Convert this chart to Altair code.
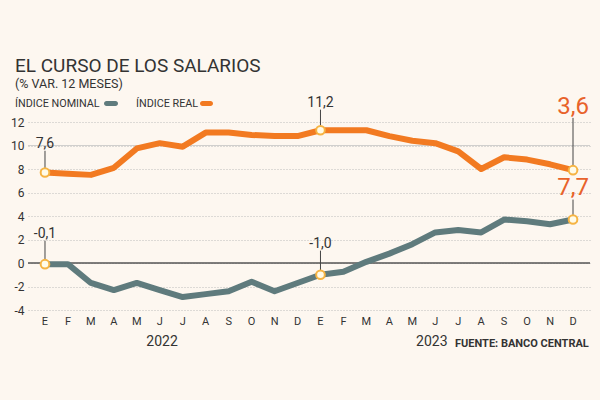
import altair as alt
import pandas as pd

months = ["E", "F", "M", "A", "M", "J", "J", "A", "S", "O", "N", "D"] * 2
nominal = [-0.1, -0.1, -1.7, -2.3, -1.7, -2.3, -2.9, -2.65, -2.4, -1.6, -2.4, -1.7,
           -1.0, -0.75, 0.1, 0.8, 1.6, 2.6, 2.8, 2.6, 3.7, 3.55, 3.3, 3.7]
real = [7.7, 7.6, 7.5, 8.1, 9.75, 10.2, 9.9, 11.1, 11.1, 10.9, 10.8, 10.8,
        11.3, 11.3, 11.3, 10.8, 10.4, 10.2, 9.5, 8.0, 9.0, 8.8, 8.4, 7.9]
y_ticks = [-4, -2, 0, 2, 4, 6, 8, 10, 12]
years = ["2022", "2023"]
year_pos = [5.1, 16.85]

# annotations: month index, series, label text, label lift (value units), big flag
ann_idx = [0, 0, 12, 12, 23, 23]
ann_series = ["real", "nominal", "real", "nominal", "real", "nominal"]
ann_text = ["7,6", "-0,1", "11,2", "-1,0", "3,6", "7,7"]
ann_lift = [2.4, 2.55, 2.3, 2.6, 5.4, 2.65]
ann_big = [False, False, False, False, True, True]

FONT = "Roboto"
BG = "#fdf7f0"
ORANGE = "#f27a21"
GRAY = "#5f7b7d"
TXT = "#333333"
RED = "#e8622a"

idx = list(range(24))
df = pd.DataFrame({
    "i": idx * 2,
    "v": nominal + real,
    "s": ["nominal"] * 24 + ["real"] * 24,
})

vals = {"real": real, "nominal": nominal}
adf = pd.DataFrame({
    "i": ann_idx,
    "v": [vals[s][i] for s, i in zip(ann_series, ann_idx)],
    "t": ann_text,
    "lift": ann_lift,
    "big": ann_big,
})
adf["ly"] = adf["v"] + adf["lift"]
adf["ry"] = adf["ly"] - adf["big"].map({True: 0.95, False: 0.55})

xscale = alt.Scale(domain=[-0.74, 23.74], nice=False, zero=False)
yscale = alt.Scale(domain=[-4, 12], nice=False, zero=False)

def X(f):
    return alt.X(f, scale=xscale, axis=None)

def Y(f):
    return alt.Y(f, scale=yscale, title=None)

# grid + y labels drawn by an axis on a dedicated layer
tick_df = pd.DataFrame({"v": y_ticks})
yaxis_layer = alt.Chart(tick_df).mark_rule(opacity=0).encode(
    y=alt.Y("v:Q", scale=yscale,
            axis=alt.Axis(values=y_ticks, tickCount=len(y_ticks), labelExpr="'' + datum.value",
                          grid=True, gridDash=[1, 2], gridColor="#bdbdbd", gridWidth=1,
                          ticks=False, domain=False, title=None, labelFontSize=12,
                          labelPadding=4, labelColor=TXT, labelFont=FONT,
                          labelOverlap=False, labelFlush=False)))

lines = alt.Chart(df).mark_line(strokeWidth=6, strokeJoin="round", strokeCap="round").encode(
    x=X("i:Q"),
    y=Y("v:Q"),
    color=alt.Color("s:N", scale=alt.Scale(domain=["nominal", "real"], range=[GRAY, ORANGE]),
                    legend=None),
    detail="s:N",
)

zero_df = pd.DataFrame({"v": [0]})
ten_df = pd.DataFrame({"v": [10]})
zero = alt.Chart(zero_df).mark_rule(color="#555555", strokeWidth=1.5).encode(y=Y("v:Q"))
ten = alt.Chart(ten_df).mark_rule(color="#c4c4c4", strokeWidth=0.8).encode(y=Y("v:Q"))

ann = alt.Chart(adf)
leaders = ann.mark_rule(color="#444444", strokeWidth=1).encode(
    x=X("i:Q"), y=Y("v:Q"), y2="ry:Q")
points = ann.mark_point(shape="circle", size=75, filled=True, fill="#fffbe8",
                        stroke="#f6b443", strokeWidth=2, opacity=1).encode(
    x=X("i:Q"), y=Y("v:Q"))
small_lbl = ann.transform_filter("!datum.big").mark_text(
    font=FONT, fontSize=14, color=TXT, baseline="middle", align="center").encode(
    x=X("i:Q"), y=Y("ly:Q"), text="t:N")
big_lbl = ann.transform_filter("datum.big").mark_text(
    font=FONT, fontSize=24, color=RED, baseline="middle", align="center").encode(
    x=X("i:Q"), y=Y("ly:Q"), text="t:N")

mdf = pd.DataFrame({"i": idx, "t": months})
month_txt = alt.Chart(mdf).mark_text(font=FONT, fontSize=11, color=TXT, baseline="middle",
                                     align="center").encode(
    x=X("i:Q"), y=alt.value(200), text="t:N")

ydf = pd.DataFrame({"i": year_pos, "t": years})
year_txt = alt.Chart(ydf).mark_text(font=FONT, fontSize=14, color=TXT, baseline="middle",
                                    align="center").encode(
    x=X("i:Q"), y=alt.value(220), text="t:N")

meta = pd.DataFrame({"t": ["x"]})
def label(text, x, y, size, color=TXT, weight="normal", align="left"):
    return alt.Chart(meta).mark_text(text=text, font=FONT, fontSize=size, color=color,
                                     fontWeight=weight, align=align, baseline="alphabetic").encode(
        x=alt.value(x), y=alt.value(y))

title = label("EL CURSO DE LOS SALARIOS", -13, -50, 19)
subtitle = label("(% VAR. 12 MESES)", -13, -34, 12.5)
leg1 = label("ÍNDICE NOMINAL", -13, -15, 10.8)
leg2 = label("ÍNDICE REAL", 108, -15, 10.8)
source = label("FUENTE: BANCO CENTRAL", 427, 225, 11, weight="bold")

def pill(x1, x2, color):
    return alt.Chart(meta).mark_rect(color=color, cornerRadius=3).encode(
        x=alt.value(x1), x2=alt.value(x2), y=alt.value(-21), y2=alt.value(-16))

pill1 = pill(76, 90, GRAY)
pill2 = pill(172, 185, ORANGE)

chart = alt.layer(
    yaxis_layer, ten, zero, lines, leaders, points, small_lbl, big_lbl, month_txt, year_txt,
    title, subtitle, leg1, leg2, pill1, pill2, source,
).properties(
    width=562, height=188,
    autosize=alt.AutoSizeParams(type="none"),
    padding={"left": 28, "top": 122, "right": 10, "bottom": 90},
    background=BG,
).configure_view(stroke=None)

chart.save("out.html", embed_options={"renderer": "svg", "actions": False})
